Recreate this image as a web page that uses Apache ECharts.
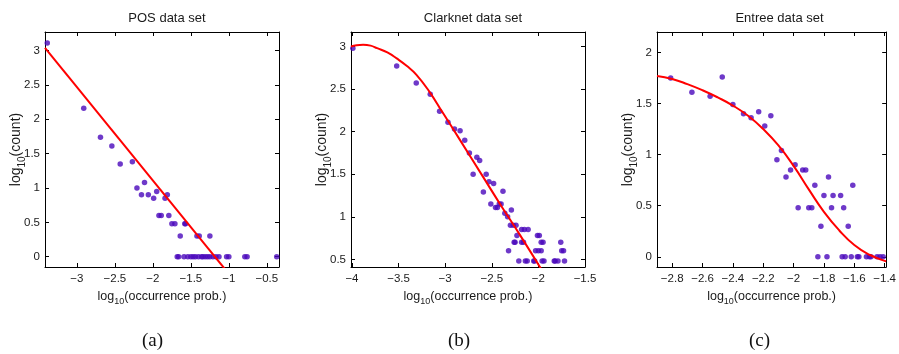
<!DOCTYPE html>
<html>
<head>
<meta charset="utf-8">
<script src="https://cdn.jsdelivr.net/npm/echarts@6/dist/echarts.min.js"></script>
<style>
  html, body { margin: 0; padding: 0; background: #fff; }
  #chart { width: 899px; height: 354px; }
</style>
</head>
<body>
<div id="chart"></div>
<script>
// ---- POS data set: log10(occurrence prob.) vs log10(count) ----
const posX = [-3.39, -2.91, -2.69, -2.54, -2.43, -2.27, -2.21, -2.15, -2.11, -2.06,
              -1.99, -1.95, -1.92, -1.89, -1.84, -1.81, -1.79, -1.75, -1.71, -1.64,
              -1.58, -1.57, -1.42, -1.39, -1.25,
              -1.68, -1.66, -1.59, -1.54, -1.50, -1.47, -1.44, -1.40, -1.36, -1.34,
              -1.31, -1.28, -1.25, -1.21, -1.17, -1.13, -1.03, -1.00, -0.79, -0.76, -0.37];
const posY = [3.11, 2.16, 1.74, 1.61, 1.35, 1.38, 1.00, 0.90, 1.08, 0.90,
              0.85, 0.95, 0.60, 0.60, 0.85, 0.90, 0.60, 0.48, 0.48, 0.30,
              0.48, 0.48, 0.30, 0.30, 0.30,
              0, 0, 0, 0, 0, 0, 0, 0, 0, 0,
              0, 0, 0, 0, 0, 0, 0, 0, 0, 0, 0];
const posFitX = [-3.42, -1.0];
const posFitY = [3.04, -0.25];
const posXRange = [-3.42, -0.34];
const posYRange = [-0.15, 3.27];
const posXTicks = [-3, -2.5, -2, -1.5, -1, -0.5];
const posYTicks = [0, 0.5, 1, 1.5, 2, 2.5, 3];

// ---- Clarknet data set ----
const clarkX = [-3.99, -3.52, -3.31, -3.16, -3.06, -2.97, -2.90, -2.84, -2.79, -2.74,
                -2.70, -2.66, -2.63, -2.59, -2.56, -2.53, -2.51, -2.48, -2.46, -2.44,
                -2.42, -2.40, -2.38, -2.36, -2.33, -2.32, -2.30, -2.29, -2.27, -2.26,
                -2.25, -2.24, -2.23, -2.21, -2.18, -2.18, -2.16, -2.15, -2.14, -2.12,
                -2.11, -2.05, -2.04, -2.03, -2.01, -2.00, -1.99, -1.97, -1.97, -1.96,
                -1.95, -1.94, -1.83, -1.82, -1.79, -1.76, -1.75, -1.73, -1.72];
const clarkY = [2.98, 2.77, 2.57, 2.44, 2.24, 2.11, 2.03, 2.01, 1.90, 1.75,
                1.50, 1.70, 1.66, 1.29, 1.50, 1.41, 1.15, 1.39, 1.11, 1.11,
                1.15, 1.15, 1.30, 1.04, 1.00, 0.60, 0.90, 1.08, 0.90, 0.70,
                0.70, 0.90, 0.78, 0.48, 0.85, 0.70, 0.70, 0.85, 0.48, 0.48,
                0.85, 0.48, 0.48, 0.60, 0.78, 0.60, 0.78, 0.60, 0.70, 0.48,
                0.70, 0.48, 0.48, 0.48, 0.48, 0.70, 0.60, 0.60, 0.48];
const clarkFitX = [-4.01, -3.95, -3.88, -3.80, -3.73, -3.62, -3.52, -3.41, -3.31, -3.17, -3.03, -2.84, -2.60, -2.40, -2.20, -1.95];
const clarkFitY = [3.00, 3.015, 3.02, 3.01, 2.98, 2.93, 2.86, 2.77, 2.67, 2.47, 2.23, 1.90, 1.48, 1.13, 0.79, 0.35];
const clarkXRange = [-4.01, -1.5];
const clarkYRange = [0.41, 3.17];
const clarkXTicks = [-4, -3.5, -3, -2.5, -2, -1.5];
const clarkYTicks = [0.5, 1, 1.5, 2, 2.5, 3];

// ---- Entree data set ----
const entreeX = [-2.81, -2.67, -2.55, -2.47, -2.40, -2.33, -2.28, -2.23, -2.19, -2.15,
                 -2.11, -2.08, -2.05, -2.02, -1.99, -1.97, -1.94, -1.92, -1.90, -1.88,
                 -1.86, -1.84, -1.82, -1.80, -1.78, -1.77, -1.75, -1.74, -1.69, -1.68,
                 -1.67, -1.66, -1.64, -1.62, -1.61, -1.58, -1.57, -1.52, -1.50, -1.49,
                 -1.45, -1.43, -1.41];
const entreeY = [1.75, 1.61, 1.57, 1.76, 1.49, 1.40, 1.36, 1.42, 1.28, 1.38,
                 0.95, 1.04, 0.78, 0.85, 0.90, 0.48, 0.85, 0.85, 0.48, 0.48,
                 0.70, 0, 0.30, 0.60, 0, 0.78, 0.48, 0.60, 0.60, 0,
                 0.48, 0, 0.30, 0, 0.70, 0, 0, 0, 0, 0,
                 0, 0, 0];
const entreeFitX = [-2.90, -2.80, -2.70, -2.60, -2.50, -2.40, -2.30, -2.20, -2.10, -2.00, -1.90, -1.80, -1.70, -1.60, -1.50, -1.39];
const entreeFitY = [1.77, 1.74, 1.69, 1.63, 1.56, 1.48, 1.38, 1.25, 1.09, 0.89, 0.66, 0.44, 0.26, 0.115, 0.02, -0.045];
const entreeXRange = [-2.9, -1.39];
const entreeYRange = [-0.1, 2.2];
const entreeXTicks = [-2.8, -2.6, -2.4, -2.2, -2, -1.8, -1.6, -1.4];
const entreeYTicks = [0, 0.5, 1, 1.5, 2];

const titles = ['POS data set', 'Clarknet data set', 'Entree data set'];
const captions = ['(a)', '(b)', '(c)'];

// ---- layout & style ----
const panels = [
  { left: 45,  width: 234, x: posX, y: posY, fx: posFitX, fy: posFitY,
    xr: posXRange, yr: posYRange, xt: posXTicks, yt: posYTicks, smooth: false, capX: 155 },
  { left: 351, width: 234, x: clarkX, y: clarkY, fx: clarkFitX, fy: clarkFitY,
    xr: clarkXRange, yr: clarkYRange, xt: clarkXTicks, yt: clarkYTicks, smooth: true, capX: 461 },
  { left: 657, width: 235, x: entreeX, y: entreeY, fx: entreeFitX, fy: entreeFitY,
    xr: entreeXRange, yr: entreeYRange, xt: entreeXTicks, yt: entreeYTicks, smooth: true, capX: 762 }
];
const TOP = 32, HEIGHT = 235;
const FONT = '"Liberation Sans", Arial, sans-serif';
const TEXT_COLOR = '#1a1a1a';
const DOT_COLOR = '#4a08bc';
const FIT_COLOR = '#ff0000';

const zip = (xs, ys) => xs.map((v, i) => [v, ys[i]]);
const fmt = v => String(v).replace('-', '\u2212');
const xNameRich = {
  n: { fontSize: 12.5, fontFamily: FONT, color: TEXT_COLOR },
  s: { fontSize: 9, fontFamily: FONT, color: TEXT_COLOR, padding: [10, 0, 0, 0] }
};
const yNameRich = {
  n: { fontSize: 14, fontFamily: FONT, color: TEXT_COLOR },
  s: { fontSize: 10, fontFamily: FONT, color: TEXT_COLOR, padding: [11, 0, 0, 0] }
};

const grid = [], xAxis = [], yAxis = [], series = [], title = [], graphic = [];

panels.forEach((p, i) => {
  grid.push({ left: p.left, top: TOP, width: p.width, height: HEIGHT, containLabel: false });

  const lineStyle = { color: '#000', width: 1 };
  const tick = (vals) => ({ show: true, inside: true, length: 4, customValues: vals, lineStyle: { color: '#000', width: 1 } });

  // bottom & left axes carry the labels
  xAxis.push({
    type: 'value', gridIndex: i, position: 'bottom', min: p.xr[0], max: p.xr[1],
    axisLine: { show: true, onZero: false, lineStyle },
    axisTick: tick(p.xt),
    axisLabel: { show: true, customValues: p.xt, formatter: fmt, margin: 6,
                 fontFamily: FONT, fontSize: 11.5, color: TEXT_COLOR },
    splitLine: { show: false },
    name: '{n|log}{s|10}{n|(occurrence prob.)}', nameLocation: 'middle', nameGap: 20,
    nameMoveOverlap: false,
    nameTextStyle: { rich: xNameRich }
  });
  yAxis.push({
    type: 'value', gridIndex: i, position: 'left', min: p.yr[0], max: p.yr[1],
    axisLine: { show: true, onZero: false, lineStyle },
    axisTick: tick(p.yt),
    axisLabel: { show: true, customValues: p.yt, formatter: fmt, margin: 5,
                 fontFamily: FONT, fontSize: 11.5, color: TEXT_COLOR },
    splitLine: { show: false },
    name: '{n|log}{s|10}{n|(count)}', nameLocation: 'middle', nameGap: 18,
    nameMoveOverlap: false,
    nameTextStyle: { rich: yNameRich }
  });
  // top & right axes close the box
  xAxis.push({
    type: 'value', gridIndex: i, position: 'top', min: p.xr[0], max: p.xr[1],
    axisLine: { show: true, onZero: false, lineStyle },
    axisTick: tick(p.xt), axisLabel: { show: false }, splitLine: { show: false }
  });
  yAxis.push({
    type: 'value', gridIndex: i, position: 'right', min: p.yr[0], max: p.yr[1],
    axisLine: { show: true, onZero: false, lineStyle },
    axisTick: tick(p.yt), axisLabel: { show: false }, splitLine: { show: false }
  });

  series.push({
    type: 'scatter', xAxisIndex: 2 * i, yAxisIndex: 2 * i,
    data: zip(p.x, p.y), symbol: 'circle', symbolSize: 5.5,
    itemStyle: { color: DOT_COLOR }, silent: true, z: 2
  });
  series.push({
    type: 'line', xAxisIndex: 2 * i, yAxisIndex: 2 * i,
    data: zip(p.fx, p.fy), showSymbol: false, smooth: p.smooth, clip: true,
    lineStyle: { color: FIT_COLOR, width: 2 }, silent: true, z: 3
  });

  title.push({
    text: titles[i], left: p.left + p.width / 2, top: 7, textAlign: 'center',
    textStyle: { fontFamily: FONT, fontSize: 13, fontWeight: 'normal', color: TEXT_COLOR }
  });
  graphic.push({
    type: 'text', left: p.capX - 13, top: 332,
    style: { text: captions[i], font: '19px "Liberation Serif", "DejaVu Serif", serif', fill: '#111' }
  });
});

const chart = echarts.init(document.getElementById('chart'), null, { renderer: 'canvas' });
chart.setOption({
  animation: false,
  backgroundColor: '#fff',
  title, grid, xAxis, yAxis, series, graphic
});
</script>
</body>
</html>
